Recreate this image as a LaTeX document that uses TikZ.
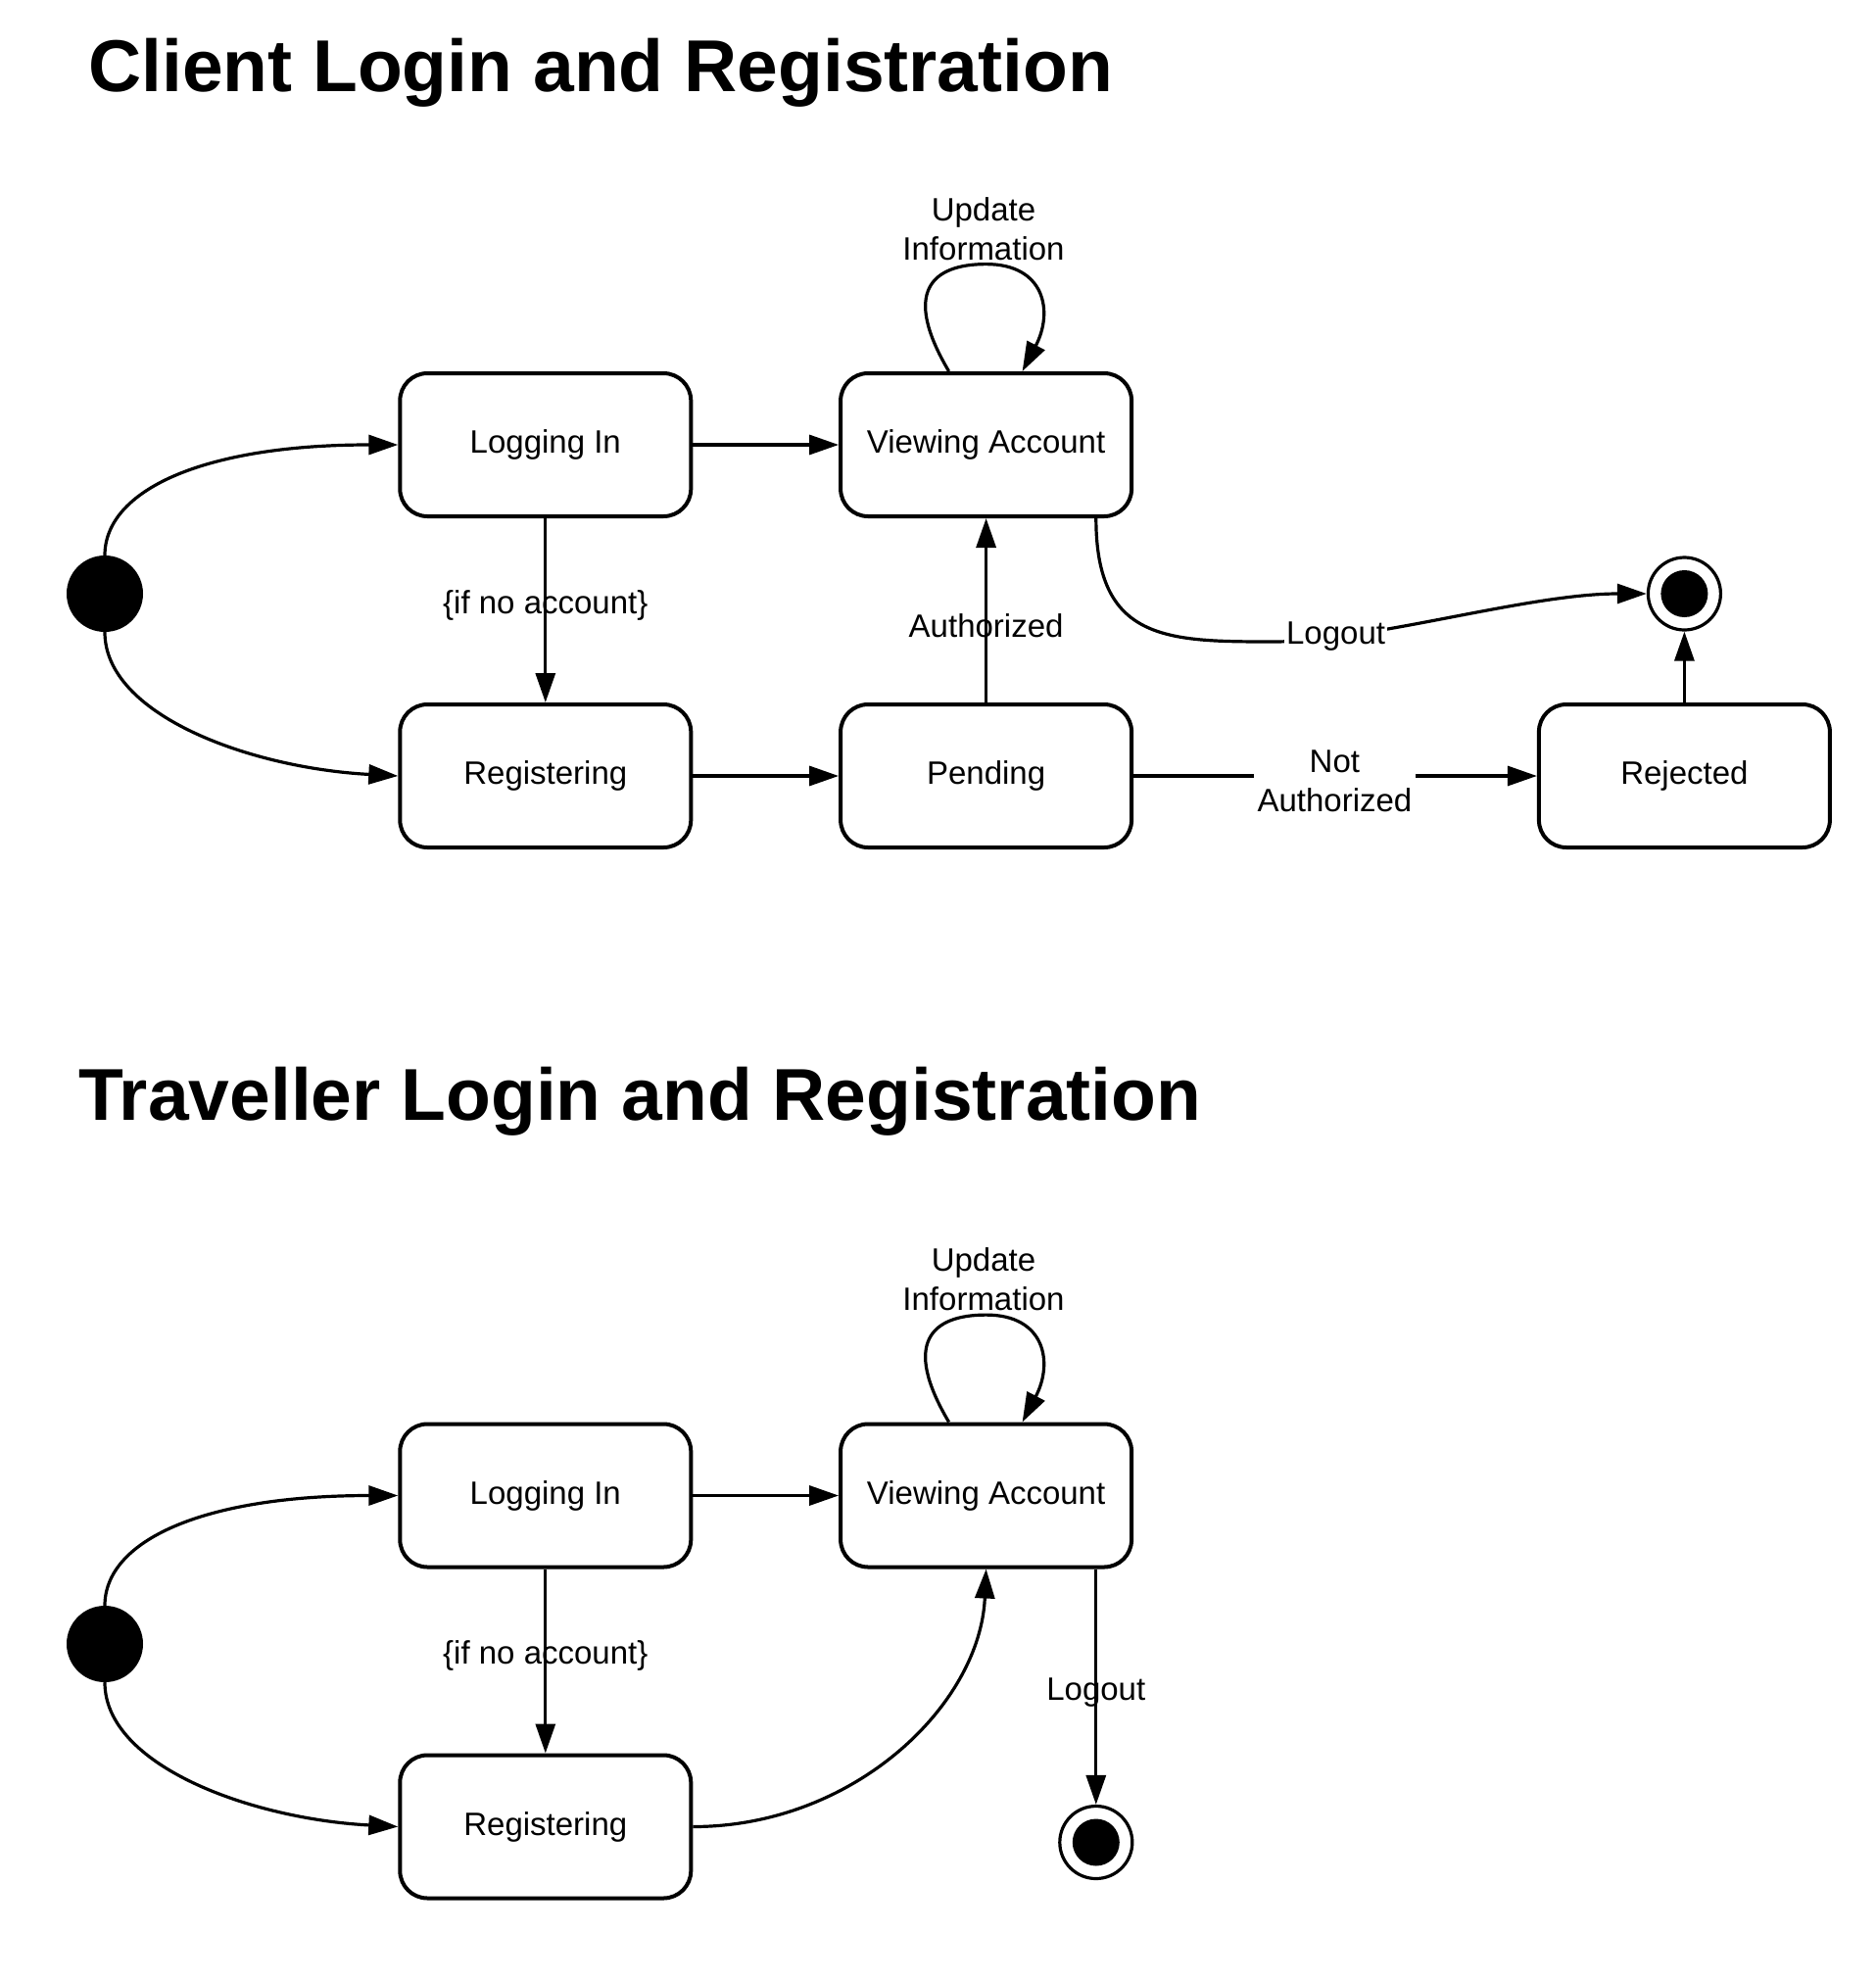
\documentclass[tikz,border=0pt]{standalone}
\usepackage{fontspec}
\setmainfont{Liberation Sans}
\usetikzlibrary{arrows.meta}
\begin{document}
\begin{tikzpicture}[x=1pt,y=-1pt,
 state/.style={draw, line width=4pt, rounded corners=28pt, minimum width=297pt, minimum height=146pt, inner sep=0pt, font=\fontsize{33}{40}\selectfont},
 initst/.style={circle, fill=black, minimum size=78pt, inner sep=0pt},
 finring/.style={circle, draw, line width=3.2pt, minimum size=74pt, inner sep=0pt},
 findot/.style={circle, fill=black, minimum size=48pt, inner sep=0pt},
 trans/.style={line width=3.2pt, -{Triangle[length=30pt,width=20pt]}},
 lbl/.style={font=\fontsize{33}{40}\selectfont, align=center, inner sep=2pt},
 ttl/.style={font=\fontsize{75}{90}\selectfont\bfseries, anchor=base west, inner sep=0pt}]
\useasboundingbox (0,0) rectangle (1914,2021);

% ---------- Client ----------
\node[ttl] (t1) at (90,93) {Client Login and Registration};

\node[state] (li1) at (556.8,454) {Logging In};
\node[state] (va1) at (1006.6,454) {Viewing Account};
\node[state] (re1) at (556.8,792) {Registering};
\node[state] (pe1) at (1006.6,792) {Pending};
\node[state] (rj1) at (1719.4,792) {Rejected};
\node[initst] (in1) at (107,606) {};
\node[finring] (fi1) at (1719.4,606) {};
\node[findot] (fd1) at (1719.4,606) {};

\draw[trans] (in1.north) .. controls +(0,-66) and +(-200,0) .. (li1.west);
\draw[trans] (in1.south) .. controls +(0,85) and +(-150,-8) .. (re1.west);
\draw[trans] (li1.east) -- (va1.west);
\draw[trans] (li1.south) -- (re1.north);
\node[lbl] (l1) at (556.8,618) {\{if no account\}};
\draw[trans] (re1.east) -- (pe1.west);
\draw[trans] (pe1.north) -- (va1.south);
\node[lbl] (l2) at (1006.6,639) {Authorized};
\draw[trans] (pe1.east) -- (rj1.west);
\node[lbl, fill=white, inner sep=4pt] (l3) at (1362.4,797) {Not\\Authorized};
\draw[trans] (rj1.north) -- (fi1.south);
\coordinate (lo1) at ([xshift=112.2pt]va1.south);
\coordinate (lm1) at (1300,655);
\draw[trans] (lo1) .. controls +(0,125) and +(-110,0) .. (lm1)
  .. controls +(100,0) and +(-122,0) .. (fi1.west);
\node[lbl, fill=white] (l4) at (1363.6,650) {Logout};
\coordinate (la1) at ([xshift=-38pt]va1.north);
\coordinate (lb1) at ([xshift=37pt]va1.north);
\coordinate (lt1) at ([yshift=109.4pt]va1.north);
\draw[trans] (la1) .. controls +(-48,-81) and +(-56,0) .. (lt1)
  .. controls +(60,0) and +(32,-61) .. (lb1);
\node[lbl] (l5) at (1004,234) {Update\\Information};

% ---------- Traveller ----------
\node[ttl] (t2) at (80,1143) {Traveller Login and Registration};

\node[state] (li2) at (556.8,1526.5) {Logging In};
\node[state] (va2) at (1006.6,1526.5) {Viewing Account};
\node[state] (re2) at (556.8,1864.5) {Registering};
\node[initst] (in2) at (107,1678) {};
\node[finring] (fi2) at (1118.8,1880.5) {};
\node[findot] (fd2) at (1118.8,1880.5) {};

\draw[trans] (in2.north) .. controls +(0,-66) and +(-200,0) .. (li2.west);
\draw[trans] (in2.south) .. controls +(0,85) and +(-150,-8) .. (re2.west);
\draw[trans] (li2.east) -- (va2.west);
\draw[trans] (li2.south) -- (re2.north);
\node[lbl] (m1) at (556.8,1690) {\{if no account\}};
\draw[trans] (re2.east) .. controls +(165,0) and +(-6,138) .. (va2.south);
\coordinate (lo2) at ([xshift=112.2pt]va2.south);
\draw[trans] (lo2) -- (fi2.north);
\node[lbl] (m2) at (1118.8,1728) {Logout};
\coordinate (la2) at ([xshift=-38pt]va2.north);
\coordinate (lb2) at ([xshift=37pt]va2.north);
\coordinate (lt2) at ([yshift=109.4pt]va2.north);
\draw[trans] (la2) .. controls +(-48,-81) and +(-56,0) .. (lt2)
  .. controls +(60,0) and +(32,-61) .. (lb2);
\node[lbl] (m3) at (1004,1306) {Update\\Information};
\end{tikzpicture}
\end{document}
